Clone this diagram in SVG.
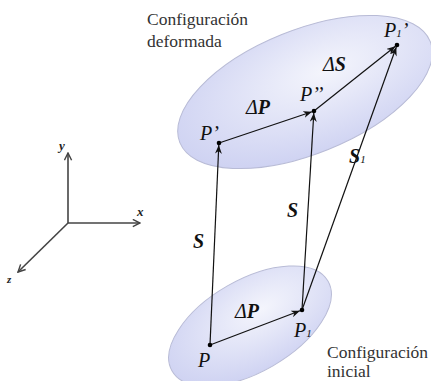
<svg xmlns="http://www.w3.org/2000/svg" width="431" height="381" viewBox="0 0 431 381">
<style>
text{font-family:'Liberation Serif','DejaVu Serif',serif}
.cfg{font-size:17.5px;fill:#333}
.it{font-style:italic;font-size:20px;fill:#111}
.bd{font-weight:bold}
.sub{font-size:11px}
.ax{font-style:italic;font-weight:bold;font-size:13px;fill:#222}
.vec{stroke:#111;stroke-width:1.2;fill:none;marker-end:url(#ah)}
.axl{stroke:#444;stroke-width:1.6;fill:none;marker-end:url(#aa)}
.blob{fill:url(#g);stroke:#b8bbd6;stroke-width:1}
.dot{fill:#000}
</style>
<defs>
<radialGradient id="g" cx="0.6" cy="0.4" r="0.7">
<stop offset="0" stop-color="#f4f5fc"/>
<stop offset="1" stop-color="#cbcff1"/>
</radialGradient>
<marker id="ah" viewBox="0 0 10 8" refX="10" refY="4" markerWidth="9" markerHeight="7" markerUnits="userSpaceOnUse" orient="auto">
<path d="M0,0 L10,4 L0,8 L3,4 Z" fill="#111"/>
</marker>
<marker id="aa" viewBox="0 0 10 10" refX="9" refY="5" markerWidth="9" markerHeight="9" markerUnits="userSpaceOnUse" orient="auto">
<path d="M1,1 L9,5 L1,9" fill="none" stroke="#444" stroke-width="1.6"/>
</marker>
</defs>

<g id="config-deformada">
<ellipse class="blob" cx="305" cy="92" rx="135" ry="62" transform="rotate(-22 305 92)"/>
<text class="cfg" x="147" y="25" font-family="Liberation Serif, serif">Configuración</text>
<text class="cfg" x="147" y="47" font-family="Liberation Serif, serif">deformada</text>
</g>
<g id="config-inicial">
<ellipse class="blob" cx="250" cy="326" rx="90" ry="46" transform="rotate(-30 250 326)"/>
<text class="cfg" x="327" y="358" font-family="Liberation Serif, serif">Configuración</text>
<text class="cfg" x="327" y="377" font-family="Liberation Serif, serif">inicial</text>
</g>

<g id="axes">
<path class="axl" d="M68,223 L68,153"/>
<path class="axl" d="M68,223 L140,223"/>
<path class="axl" d="M68,223 L18,272"/>
<text class="ax" x="59" y="150">y</text>
<text class="ax" x="137" y="216">x</text>
<text class="ax" x="7" y="283" style="font-size:11px">z</text>
</g>

<g id="connectors">
<path class="vec" d="M210,345 L218.8,145"/>
<path class="vec" d="M302,310 L313.8,113"/>
<path class="vec" d="M302,310 L396.3,47"/>
<path class="vec" d="M219,143 L312,111.7"/>
<path class="vec" d="M314,111 L395.4,46.3"/>
<path class="vec" d="M210,345 L300,310.8"/>
<text class="it" x="193" y="248"><tspan class="bd">S</tspan></text>
<text class="it" x="287" y="217"><tspan class="bd">S</tspan></text>
<text class="it" x="349" y="163"><tspan class="bd">S</tspan><tspan class="sub">1</tspan></text>
<text class="it" x="246" y="114">Δ<tspan class="bd">P</tspan></text>
<text class="it" x="323" y="71">Δ<tspan class="bd">S</tspan></text>
<text class="it" x="235" y="318">Δ<tspan class="bd">P</tspan></text>
</g>

<g id="P-prime">
<circle class="dot" cx="219" cy="143" r="2.3"/>
<text class="it" x="200" y="140">P’</text>
</g>
<g id="P-dprime">
<circle class="dot" cx="314" cy="111" r="2.3"/>
<text class="it" x="300" y="101">P’’</text>
</g>
<g id="P1-prime">
<circle class="dot" cx="397" cy="45" r="2.3"/>
<text class="it" x="384" y="37">P<tspan class="sub">1</tspan>’</text>
</g>
<g id="P">
<circle class="dot" cx="210" cy="345" r="2.3"/>
<text class="it" x="198" y="367">P</text>
</g>
<g id="P1">
<circle class="dot" cx="302" cy="310" r="2.3"/>
<text class="it" x="294" y="337">P<tspan class="sub">1</tspan></text>
</g>
</svg>
